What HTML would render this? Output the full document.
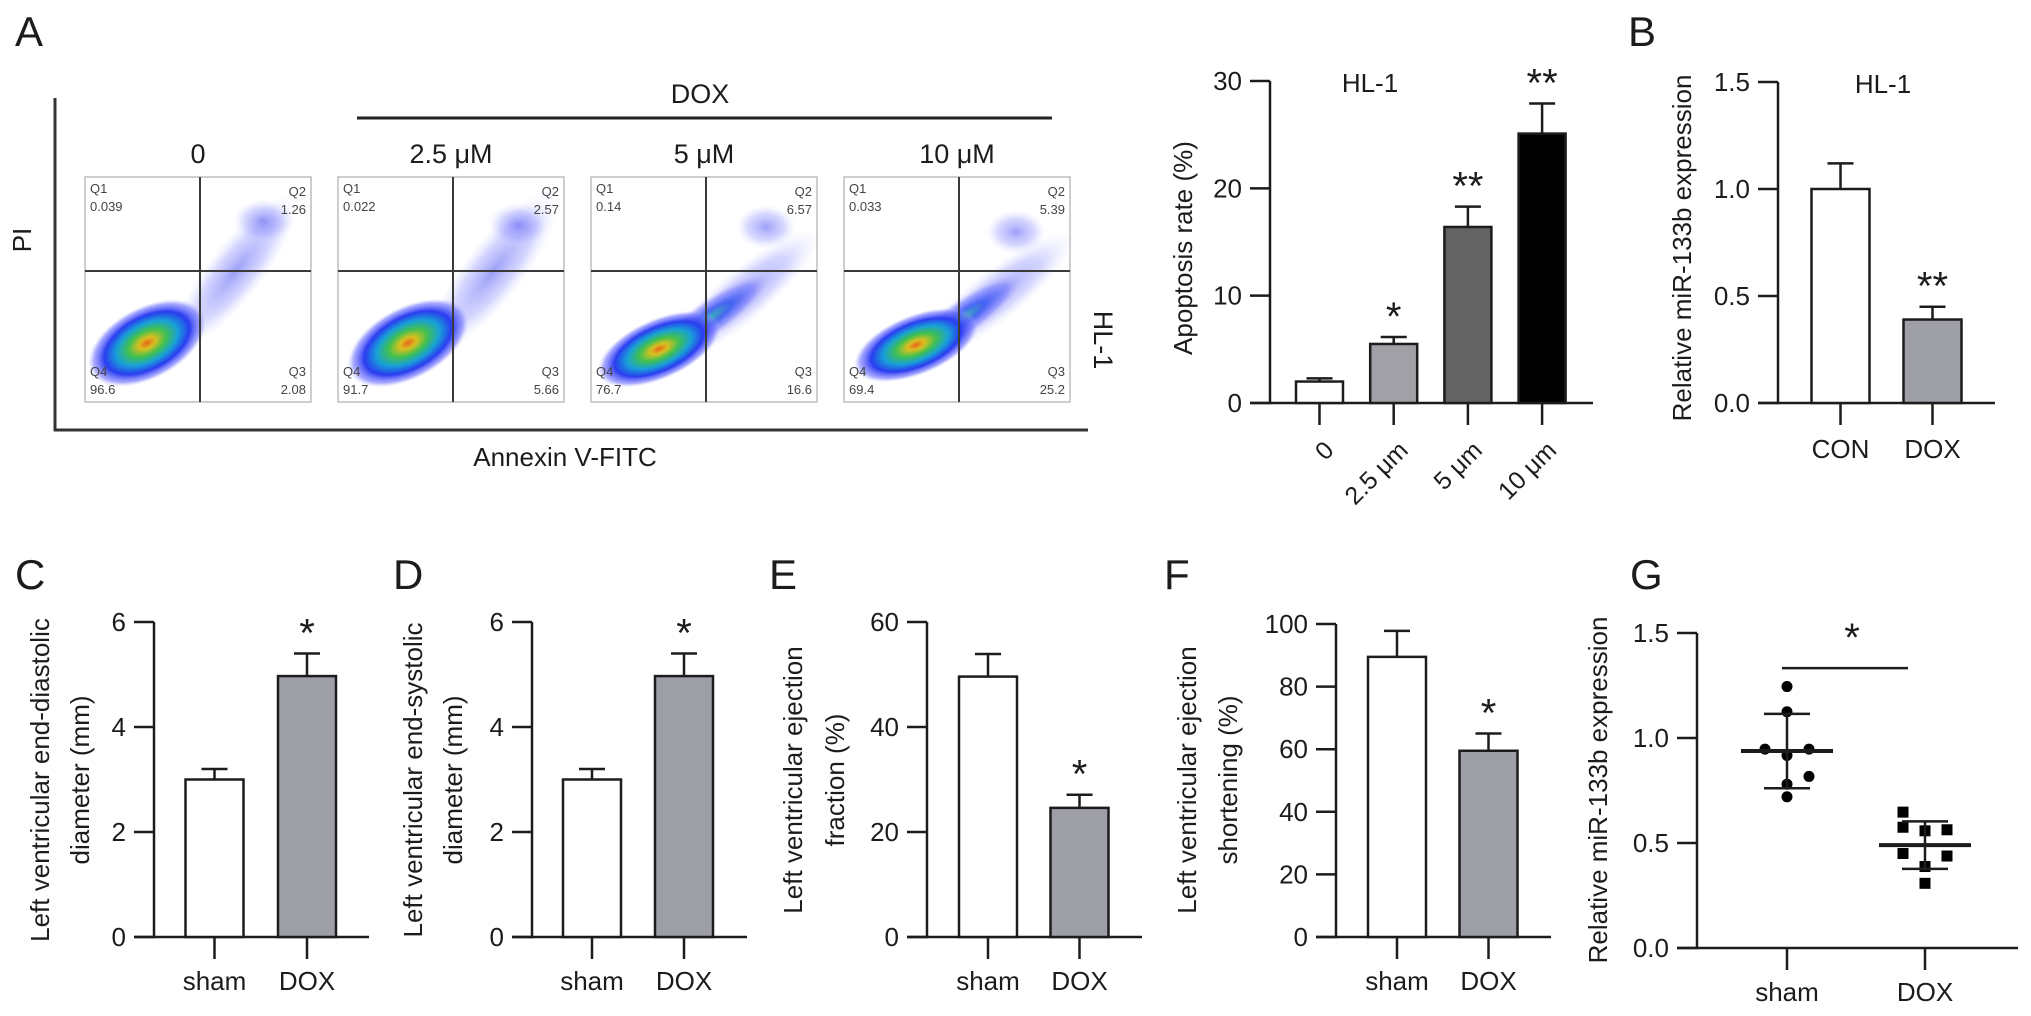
<!DOCTYPE html>
<html><head><meta charset="utf-8"><title>DOX figure</title>
<style>
html,body{margin:0;padding:0;background:#fff;}
svg{display:block;font-family:"Liberation Sans",Arial,sans-serif;}
</style></head>
<body>
<svg id="fig" width="2031" height="1016" viewBox="0 0 2031 1016" xmlns="http://www.w3.org/2000/svg">
<defs>
<radialGradient id="dens" cx="50%" cy="50%" r="50%">
<stop offset="0" stop-color="#e8661a"/>
<stop offset="0.14" stop-color="#d8c020"/>
<stop offset="0.32" stop-color="#40c050"/>
<stop offset="0.52" stop-color="#18a0d8"/>
<stop offset="0.72" stop-color="#2a3cf0"/>
<stop offset="0.9" stop-color="#6f72ff" stop-opacity="0.6"/>
<stop offset="1" stop-color="#b8baff" stop-opacity="0"/>
</radialGradient>
<radialGradient id="tail" cx="50%" cy="50%" r="50%">
<stop offset="0" stop-color="#4a50f0" stop-opacity="0.55"/>
<stop offset="0.6" stop-color="#8a8cff" stop-opacity="0.35"/>
<stop offset="1" stop-color="#c8caff" stop-opacity="0"/>
</radialGradient>
<radialGradient id="band" cx="50%" cy="50%" r="50%">
<stop offset="0" stop-color="#28a8b0" stop-opacity="0.9"/>
<stop offset="0.35" stop-color="#2a50f0" stop-opacity="0.8"/>
<stop offset="0.75" stop-color="#6a6eff" stop-opacity="0.45"/>
<stop offset="1" stop-color="#c0c2ff" stop-opacity="0"/>
</radialGradient>
</defs>
</svg>
<script>
// ---------- data ----------
const flowTitles = ['0', '2.5 μM', '5 μM', '10 μM'];
const flowQ1 = ['0.039', '0.022', '0.14', '0.033'];
const flowQ2 = ['1.26', '2.57', '6.57', '5.39'];
const flowQ3 = ['2.08', '5.66', '16.6', '25.2'];
const flowQ4 = ['96.6', '91.7', '76.7', '69.4'];

const apopCats = ['0', '2.5 μm', '5 μm', '10 μm'];
const apopVals = [2.0, 5.5, 16.4, 25.1];
const apopErr = [0.3, 0.65, 1.9, 2.8];
const apopTicks = [0, 10, 20, 30];
const apopSig = ['', '*', '**', '**'];

const mirCats = ['CON', 'DOX'];
const mirVals = [1.0, 0.39];
const mirErr = [0.12, 0.06];
const mirTicks = [0, 0.5, 1.0, 1.5];
const mirSig = ['', '**'];

const shamCats = ['sham', 'DOX'];
const lvddVals = [3.0, 4.97];
const lvddErr = [0.2, 0.43];
const lvddTicks = [0, 2, 4, 6];
const lvsdVals = [3.0, 4.97];
const lvsdErr = [0.2, 0.43];
const lvsdTicks = [0, 2, 4, 6];
const lvefVals = [49.6, 24.6];
const lvefErr = [4.3, 2.5];
const lvefTicks = [0, 20, 40, 60];
const lvfsVals = [89.5, 59.5];
const lvfsErr = [8.3, 5.5];
const lvfsTicks = [0, 20, 40, 60, 80, 100];
const bottomSig = ['', '*'];

const gShamPts = [1.245, 1.125, 0.947, 0.917, 0.947, 0.817, 0.78, 0.72];
const gDoxPts = [0.647, 0.575, 0.558, 0.563, 0.45, 0.438, 0.388, 0.308];
const gMeans = [0.938, 0.49];
const gSD = [0.177, 0.113];
const gTicks = [0, 0.5, 1.0, 1.5];

// ---------- helpers ----------
const NS = 'http://www.w3.org/2000/svg';
const svg = document.getElementById('fig');
const INK = '#1c1c1c';
function mk(tag, attrs, parent) {
  const e = document.createElementNS(NS, tag);
  for (const k in attrs) e.setAttribute(k, attrs[k]);
  (parent || svg).appendChild(e);
  return e;
}
function txt(str, attrs, parent) {
  const e = mk('text', attrs, parent);
  e.textContent = str;
  return e;
}
function group(name) {
  const g = mk('g', {});
  
  
  return g;
}
function fmtTick(v, dec) { return dec ? v.toFixed(dec) : String(v); }

// ---------- panel letters ----------
const letters = [['A', 15, 46], ['B', 1628, 46], ['C', 15, 589], ['D', 393, 589], ['E', 769, 589], ['F', 1164, 589], ['G', 1630, 589]];
letters.forEach(function (L) {
  const t = txt(L[0], {x: L[1], y: L[2], 'font-size': 42, fill: INK});
  
  
});

// ---------- flow cytometry panel ----------
(function () {
  const g = group('flow-cytometry-panel');
  const frameL = mk('line', {x1: 55, y1: 98, x2: 55, y2: 431, stroke: '#333', 'stroke-width': 3}, g);
  
  
  const frameB = mk('line', {x1: 54, y1: 430, x2: 1088, y2: 430, stroke: '#333', 'stroke-width': 3}, g);
  
  
  const pi = txt('PI', {x: 0, y: 0, 'font-size': 26, fill: INK, 'text-anchor': 'middle', transform: 'translate(31,240) rotate(-90)'}, g);
  
  
  const ann = txt('Annexin V-FITC', {x: 565, y: 466, 'font-size': 26, fill: INK, 'text-anchor': 'middle'}, g);
  
  
  const doxL = mk('line', {x1: 357, y1: 118, x2: 1052, y2: 118, stroke: '#222', 'stroke-width': 3}, g);
  
  
  const doxT = txt('DOX', {x: 700, y: 103, 'font-size': 27, fill: INK, 'text-anchor': 'middle'}, g);
  
  
  const hl = txt('HL-1', {x: 0, y: 0, 'font-size': 27, fill: INK, 'text-anchor': 'middle', transform: 'translate(1094,340) rotate(90)'}, g);
  
  

  const W = 226, H = 225, qx = 115, qy = 94;
  const blobs = [
    {mx: 62, my: 166, rx: 64, ry: 36, rot: -28, tx: 150, ty: 95, trx: 95, try_: 28, trot: -52, cx2: 178, cy2: 44},
    {mx: 70, my: 166, rx: 66, ry: 36, rot: -28, tx: 155, ty: 95, trx: 100, try_: 30, trot: -52, cx2: 180, cy2: 48},
    {mx: 68, my: 172, rx: 66, ry: 30, rot: -24, tx: 150, ty: 120, trx: 100, try_: 26, trot: -40, cx2: 175, cy2: 50},
    {mx: 72, my: 168, rx: 66, ry: 30, rot: -22, tx: 150, ty: 120, trx: 100, try_: 26, trot: -38, cx2: 172, cy2: 55}
  ];
  for (let i = 0; i < flowTitles.length; i++) {
    const x0 = 85 + i * 253, y0 = 177;
    const pg = mk('g', {transform: 'translate(' + x0 + ',' + y0 + ')'}, g);
    
    
    const title = txt(flowTitles[i], {x: W / 2, y: -14, 'font-size': 27, fill: INK, 'text-anchor': 'middle'}, pg);
    
    
    const box = mk('rect', {x: 0, y: 0, width: W, height: H, fill: '#fff', stroke: '#bdbdbd', 'stroke-width': 1.5}, pg);
    
    
    const b = blobs[i];
    const tail = mk('ellipse', {cx: b.tx, cy: b.ty, rx: b.trx, ry: b.try_, fill: 'url(#tail)', transform: 'rotate(' + b.trot + ' ' + b.tx + ' ' + b.ty + ')'}, pg);
    
    
    const c2 = mk('ellipse', {cx: b.cx2, cy: b.cy2, rx: 30, ry: 22, fill: 'url(#tail)'}, pg);
    
    
    if (i >= 2) {
      const bd = mk('ellipse', {cx: 120, cy: 140, rx: 70, ry: 18, fill: 'url(#band)', transform: 'rotate(-35 120 140)'}, pg);
      
      
    }
    const blob = mk('ellipse', {cx: b.mx, cy: b.my, rx: b.rx, ry: b.ry, fill: 'url(#dens)', transform: 'rotate(' + b.rot + ' ' + b.mx + ' ' + b.my + ')'}, pg);
    
    
    const vq = mk('line', {x1: qx, y1: 0, x2: qx, y2: H, stroke: '#3a3a3a', 'stroke-width': 2}, pg);
    
    
    const hq = mk('line', {x1: 0, y1: qy, x2: W, y2: qy, stroke: '#3a3a3a', 'stroke-width': 2}, pg);
    
    
    const qs = {'font-size': 13, fill: '#444'};
    const labs = [
      ['Q1', 5, 16, 'start'], [flowQ1[i], 5, 34, 'start'],
      ['Q2', 221, 19, 'end'], [flowQ2[i], 221, 37, 'end'],
      ['Q4', 5, 199, 'start'], [flowQ4[i], 5, 217, 'start'],
      ['Q3', 221, 199, 'end'], [flowQ3[i], 221, 217, 'end']
    ];
    labs.forEach(function (l) {
      const t = txt(l[0], {x: l[1], y: l[2], 'font-size': 13, fill: '#444', 'text-anchor': l[3]}, pg);
      
      
    });
  }
})();

// ---------- generic bar chart ----------
function barChart(o, cats, vals, errs, ticks, sigs) {
  const g = group(o.name);
  const yS = function (v) { return o.y0 - (v / o.max) * (o.y0 - o.yTop); };
  const xS = function (i) { return o.first + i * o.step; };
  // y axis
  const ya = mk('line', {x1: o.ax, y1: yS(o.max), x2: o.ax, y2: o.y0 + 1.25, stroke: INK, 'stroke-width': 2.5}, g);
  
  
  ticks.forEach(function (t) {
    const tl = mk('line', {x1: o.ax - 20, y1: yS(t), x2: o.ax, y2: yS(t), stroke: INK, 'stroke-width': 2.5}, g);
    
    
    const tt = txt(fmtTick(t, o.dec), {x: o.ax - 28, y: yS(t) + 9, 'font-size': 26, fill: INK, 'text-anchor': 'end'}, g);
    
    
  });
  const xa = mk('line', {x1: o.ax - 20, y1: o.y0, x2: o.xEnd, y2: o.y0, stroke: INK, 'stroke-width': 2.5}, g);
  
  
  for (let i = 0; i < vals.length; i++) {
    const cx = xS(i);
    const top = yS(vals[i]);
    const bar = mk('rect', {x: cx - o.bw / 2, y: top, width: o.bw, height: o.y0 - top, fill: o.fills[i], stroke: INK, 'stroke-width': 2.5}, g);
    
    
    const et = yS(vals[i] + errs[i]);
    const ev = mk('line', {x1: cx, y1: top, x2: cx, y2: et, stroke: INK, 'stroke-width': 2.5}, g);
    
    
    const ec = mk('line', {x1: cx - 13, y1: et, x2: cx + 13, y2: et, stroke: INK, 'stroke-width': 2.5}, g);
    
    
    const xt = mk('line', {x1: cx, y1: o.y0, x2: cx, y2: o.y0 + 22, stroke: INK, 'stroke-width': 2.5}, g);
    
    
    if (sigs[i]) {
      const s = txt(sigs[i], {x: cx, y: et - 30 + 23, 'font-size': 40, fill: INK, 'text-anchor': 'middle'}, g);
      
      
    }
    let cl;
    if (o.rotLabels) {
      cl = txt(cats[i], {x: 0, y: 18, 'font-size': 25, fill: INK, 'text-anchor': 'end', transform: 'translate(' + (cx + 3) + ',' + (o.y0 + 36) + ') rotate(-45)'}, g);
    } else {
      cl = txt(cats[i], {x: cx, y: o.labY, 'font-size': 26, fill: INK, 'text-anchor': 'middle'}, g);
    }
    
    
  }
  if (o.title) {
    const ti = txt(o.title, {x: o.titleX, y: o.yTop + 11, 'font-size': 26, fill: INK, 'text-anchor': 'middle'}, g);
    
    
  }
  o.ylab.forEach(function (line, k) {
    const yl = txt(line, {x: 0, y: 0, 'font-size': 26, fill: INK, 'text-anchor': 'middle', transform: 'translate(' + (o.ylabX[k] + 9) + ',' + o.ylabY + ') rotate(-90)'}, g);
    
    
  });
}

const GRAY = '#9d9ea6';
barChart({name: 'apoptosis-rate-chart', ax: 1270, y0: 403, yTop: 81, max: 30, first: 1319.5, step: 74.2, bw: 47, xEnd: 1593, fills: ['#fff', '#a0a0a6', '#636363', '#000'], dec: 0, rotLabels: true, title: 'HL-1', titleX: 1370, ylab: ['Apoptosis rate (%)'], ylabX: [1183], ylabY: 248}, apopCats, apopVals, apopErr, apopTicks, apopSig);
barChart({name: 'mir133b-hl1-chart', ax: 1778, y0: 403, yTop: 82, max: 1.5, first: 1840.5, step: 92, bw: 58, xEnd: 1995, fills: ['#fff', GRAY], dec: 1, labY: 458, title: 'HL-1', titleX: 1883, ylab: ['Relative miR-133b expression'], ylabX: [1682], ylabY: 248}, mirCats, mirVals, mirErr, mirTicks, mirSig);
barChart({name: 'lv-end-diastolic-chart', ax: 154, y0: 937, yTop: 622, max: 6, first: 214.5, step: 92.5, bw: 58, xEnd: 369, fills: ['#fff', GRAY], dec: 0, labY: 990, ylab: ['Left ventricular end-diastolic', 'diameter (mm)'], ylabX: [40, 80], ylabY: 780}, shamCats, lvddVals, lvddErr, lvddTicks, bottomSig);
barChart({name: 'lv-end-systolic-chart', ax: 532, y0: 937, yTop: 622, max: 6, first: 592, step: 92, bw: 58, xEnd: 747, fills: ['#fff', GRAY], dec: 0, labY: 990, ylab: ['Left ventricular end-systolic', 'diameter (mm)'], ylabX: [413, 453], ylabY: 780}, shamCats, lvsdVals, lvsdErr, lvsdTicks, bottomSig);
barChart({name: 'lv-ejection-fraction-chart', ax: 927, y0: 937, yTop: 622, max: 60, first: 988, step: 91.5, bw: 58, xEnd: 1142, fills: ['#fff', GRAY], dec: 0, labY: 990, ylab: ['Left ventricular ejection', 'fraction (%)'], ylabX: [793, 835], ylabY: 780}, shamCats, lvefVals, lvefErr, lvefTicks, bottomSig);
barChart({name: 'lv-fractional-shortening-chart', ax: 1336, y0: 937, yTop: 624, max: 100, first: 1397, step: 91.5, bw: 58, xEnd: 1551, fills: ['#fff', GRAY], dec: 0, labY: 990, ylab: ['Left ventricular ejection', 'shortening (%)'], ylabX: [1187, 1228], ylabY: 780}, shamCats, lvfsVals, lvfsErr, lvfsTicks, bottomSig);

// ---------- scatter panel G ----------
(function () {
  const g = group('mir133b-mouse-scatter');
  const ax = 1697, y0 = 948, yTop = 633, max = 1.5, xEnd = 2018;
  const yS = function (v) { return y0 - (v / max) * (y0 - yTop); };
  const xS = function (i) { return 1787 + i * 138; };
  const ya = mk('line', {x1: ax, y1: yS(max), x2: ax, y2: y0 + 1.25, stroke: INK, 'stroke-width': 2.5}, g);
  
  
  gTicks.forEach(function (t) {
    const tl = mk('line', {x1: ax - 20, y1: yS(t), x2: ax, y2: yS(t), stroke: INK, 'stroke-width': 2.5}, g);
    
    
    const tt = txt(t.toFixed(1), {x: ax - 28, y: yS(t) + 9, 'font-size': 26, fill: INK, 'text-anchor': 'end'}, g);
    
    
  });
  const xa = mk('line', {x1: ax - 20, y1: y0, x2: xEnd, y2: y0, stroke: INK, 'stroke-width': 2.5}, g);
  
  
  const yl = txt('Relative miR-133b expression', {x: 0, y: 0, 'font-size': 26, fill: INK, 'text-anchor': 'middle', transform: 'translate(1607,790) rotate(-90)'}, g);
  
  
  const jit = [[0, 0, -1, 0, 1, 1, 0, 0], [-1, -1, 0, 1, -1, 1, 0, 0]];
  const groups = [gShamPts, gDoxPts];
  const cats = ['sham', 'DOX'];
  for (let k = 0; k < 2; k++) {
    const cx = xS(k);
    const xt = mk('line', {x1: cx, y1: y0, x2: cx, y2: y0 + 22, stroke: INK, 'stroke-width': 2.5}, g);
    
    
    const cl = txt(cats[k], {x: cx, y: 1001, 'font-size': 26, fill: INK, 'text-anchor': 'middle'}, g);
    
    
    groups[k].forEach(function (v, j) {
      const px = cx + jit[k][j] * 22, py = yS(v);
      let m;
      if (k === 0) m = mk('circle', {cx: px, cy: py, r: 5.5, fill: '#000'}, g);
      else m = mk('rect', {x: px - 5.5, y: py - 5.5, width: 11, height: 11, fill: '#000'}, g);
      
      
    });
    const my = yS(gMeans[k]);
    const ml = mk('line', {x1: cx - 46, y1: my, x2: cx + 46, y2: my, stroke: INK, 'stroke-width': 4}, g);
    
    
    const hi = yS(gMeans[k] + gSD[k]), lo = yS(gMeans[k] - gSD[k]);
    const sv = mk('line', {x1: cx, y1: hi, x2: cx, y2: lo, stroke: INK, 'stroke-width': 2.5}, g);
    
    
    [hi, lo].forEach(function (yy) {
      const c = mk('line', {x1: cx - 23, y1: yy, x2: cx + 23, y2: yy, stroke: INK, 'stroke-width': 2.5}, g);
      
      
    });
  }
  const sl = mk('line', {x1: 1782, y1: yS(1.333), x2: 1908, y2: yS(1.333), stroke: INK, 'stroke-width': 2.5}, g);
  
  
  const st = txt('*', {x: 1852, y: yS(1.525) + 23, 'font-size': 40, fill: INK, 'text-anchor': 'middle'}, g);
  
  
})();
</script>
</body></html>
